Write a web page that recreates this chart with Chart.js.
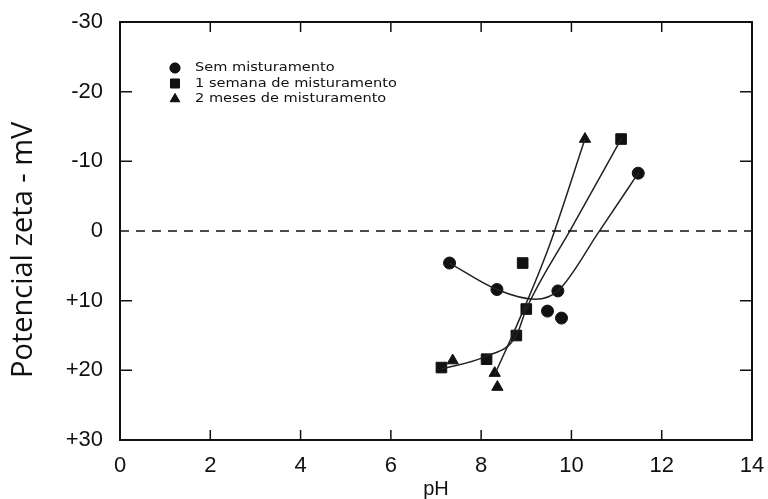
<!DOCTYPE html>
<html>
<head>
<meta charset="utf-8">
<script src="https://cdn.jsdelivr.net/npm/chart.js@4"></script>
<style>
	html, body { margin: 0; padding: 0; background: #fff; }
	#wrap { width: 768px; height: 499px; }
</style>
</head>
<body>
<div id="wrap"><canvas id="myChart_zeta"></canvas></div>
<script>
// measured points
const phSem = [7.3, 8.35, 9.7, 9.47, 9.78, 11.48];
const zetaSem = [4.6, 8.4, 8.6, 11.5, 12.5, -8.3];
const phSemana = [7.12, 8.12, 8.78, 9.0, 8.92, 11.1];
const zetaSemana = [19.6, 18.4, 15.0, 11.2, 4.6, -13.2];
const phMeses = [7.37, 8.3, 8.36, 10.3];
const zetaMeses = [18.6, 20.4, 22.4, -13.2];

// hand drawn fit curves
const fitSemPh = [7.3, 8.35, 9.2, 9.7, 10.6, 11.48];
const fitSemZeta = [4.6, 8.4, 9.8, 8.6, 0.2, -8.3];
const fitSemanaPh = [7.12, 8.1, 8.78, 9.0, 10.0, 11.1];
const fitSemanaZeta = [19.8, 18.0, 15.0, 11.2, -0.4, -13.2];
const fitMesesPh = [8.3, 8.8, 9.5, 10.3];
const fitMesesZeta = [20.6, 13.4, 2.3, -13.2];

const labelSem = 'Sem misturamento';
const labelSemana = '1 semana de misturamento';
const labelMeses = '2 meses de misturamento';

const toXY = (xs, ys) => xs.map((v, i) => ({ x: v, y: ys[i] }));

const frameTicks = {
	id: 'frameTicks',
	afterDatasetsDraw(chart) {
		const { ctx, chartArea: a, scales: { x, y } } = chart;
		ctx.save();
		ctx.strokeStyle = '#111';
		// zero line
		ctx.lineWidth = 1.5;
		ctx.setLineDash([9, 7]);
		const y0 = y.getPixelForValue(0);
		ctx.beginPath();
		ctx.moveTo(a.left, y0);
		ctx.lineTo(a.right, y0);
		ctx.stroke();
		ctx.setLineDash([]);
		// frame
		ctx.lineWidth = 2;
		ctx.strokeRect(a.left, a.top, a.right - a.left, a.bottom - a.top);
		// inward ticks
		ctx.lineWidth = 1.5;
		ctx.beginPath();
		x.ticks.forEach(t => {
			if (t.value <= x.min || t.value >= x.max) return;
			const px = x.getPixelForValue(t.value);
			ctx.moveTo(px, a.top); ctx.lineTo(px, a.top + 10);
			ctx.moveTo(px, a.bottom); ctx.lineTo(px, a.bottom - 10);
		});
		y.ticks.forEach(t => {
			if (t.value <= y.min || t.value >= y.max || t.value === 0) return;
			const py = y.getPixelForValue(t.value);
			ctx.moveTo(a.left, py); ctx.lineTo(a.left + 12, py);
			ctx.moveTo(a.right, py); ctx.lineTo(a.right - 12, py);
		});
		ctx.stroke();
		ctx.restore();
	}
};

// legend inside the plot, top left
const innerLegend = {
	id: 'innerLegend',
	afterDraw(chart) {
		const { ctx, chartArea: a } = chart;
		ctx.save();
		ctx.fillStyle = '#111';
		ctx.strokeStyle = '#111';
		ctx.textBaseline = 'middle';
		ctx.font = '13px "DejaVu Sans"';
		let row = 0;
		chart.data.datasets.forEach(ds => {
			if (!ds.inLegend) return;
			const cy = a.top + 46 + row * 15.5;
			Chart.helpers.drawPoint(ctx, {
				pointStyle: ds.pointStyle, radius: ds.pointRadius * 0.85, borderWidth: 1
			}, a.left + 55, cy);
			ctx.fill();
			ctx.save();
			ctx.translate(a.left + 75, cy);
			ctx.scale(1.12, 1);
			ctx.fillText(ds.label, 0, 0);
			ctx.restore();
			row++;
		});
		ctx.restore();
	}
};

const markerStyle = {
	backgroundColor: '#111',
	borderColor: '#111',
	borderWidth: 1,
	showLine: false,
	inLegend: true,
};
const fitStyle = {
	showLine: true,
	pointRadius: 0,
	borderColor: '#222',
	borderWidth: 1.5,
	cubicInterpolationMode: 'monotone',
	fill: false,
};

const ctx_zeta = document.getElementById('myChart_zeta').getContext('2d');
const myChart_zeta = new Chart(ctx_zeta, {
	type: 'scatter',
	data: {
		datasets: [
			{ ...fitStyle, label: 'fit1', data: toXY(fitSemPh, fitSemZeta) },
			{ ...fitStyle, label: 'fit2', data: toXY(fitSemanaPh, fitSemanaZeta) },
			{ ...fitStyle, label: 'fit3', data: toXY(fitMesesPh, fitMesesZeta) },
			{ ...markerStyle, label: labelSem, data: toXY(phSem, zetaSem), pointStyle: 'circle', pointRadius: 6 },
			{ ...markerStyle, label: labelSemana, data: toXY(phSemana, zetaSemana), pointStyle: 'rect', pointRadius: 7.5 },
			{ ...markerStyle, label: labelMeses, data: toXY(phMeses, zetaMeses), pointStyle: 'triangle', pointRadius: 6.5 },
		]
	},
	options: {
		animation: false,
		maintainAspectRatio: false,
		responsive: true,
		layout: { padding: { top: 22, right: 16, left: 0, bottom: 0 } },
		scales: {
			x: {
				type: 'linear',
				min: 0, max: 14,
				ticks: {
					stepSize: 2,
					color: '#111',
					padding: 13,
					font: { family: '"Liberation Sans", Arial', size: 22 },
				},
				grid: { display: false, drawTicks: false },
				border: { display: false },
				title: {
					display: true, text: 'pH', color: '#111',
					font: { family: '"Liberation Sans", Arial', size: 20 },
					padding: { top: 0, bottom: -2 },
				},
				afterFit: s => { s.height = 59; s.paddingLeft = 0; s.paddingRight = 0; },
			},
			y: {
				type: 'linear',
				min: -30, max: 30,
				reverse: true,
				ticks: {
					stepSize: 10,
					color: '#111',
					padding: 17,
					font: { family: '"Liberation Sans", Arial', size: 22 },
					callback: function (value) {
						return value > 0 ? '+' + value : value;
					}
				},
				grid: { display: false, drawTicks: false },
				border: { display: false },
				title: {
					display: true, text: 'Potencial zeta - mV     ', color: '#111',
					font: { family: '"Open Sans"', size: 29 },
					padding: { top: 6, bottom: 0 },
				},
				afterFit: s => { s.width = 120; s.paddingTop = 0; s.paddingBottom = 0; },
			},
		},
		plugins: {
			legend: { display: false },
			tooltip: { enabled: false },
			title: { display: false },
		}
	},
	plugins: [frameTicks, innerLegend]
});
</script>
</body>
</html>
